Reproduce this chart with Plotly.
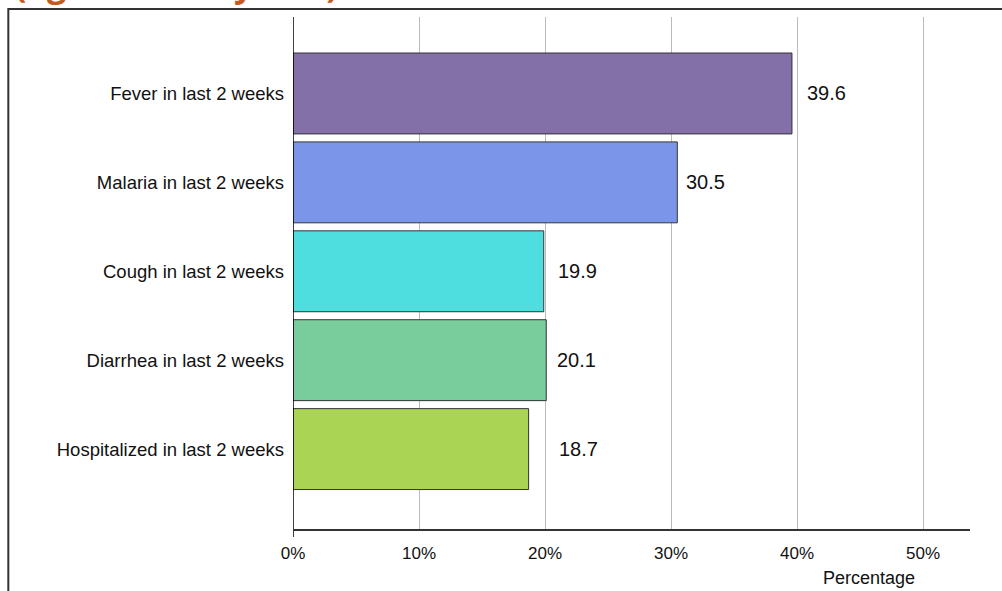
import plotly.graph_objects as go

# Child illness indicators, percentage of children
categories = [
    "Fever in last 2 weeks",
    "Malaria in last 2 weeks",
    "Cough in last 2 weeks",
    "Diarrhea in last 2 weeks",
    "Hospitalized in last 2 weeks",
]
values = [39.6, 30.5, 19.9, 20.1, 18.7]
tick_values = [0, 10, 20, 30, 40, 50]
tick_labels = ["0%", "10%", "20%", "30%", "40%", "50%"]

bar_colors = ["#8470A8", "#7B96E8", "#4EDEE0", "#79CC9C", "#AAD454"]
label_pad_px = [13, 7, 12, 9, 28]

FONT = "Liberation Sans, Arial, sans-serif"

fig = go.Figure()
fig.add_trace(go.Bar(
    x=values,
    y=categories,
    orientation="h",
    width=0.91,
    marker=dict(color=bar_colors, line=dict(color="#333333", width=1)),
    hoverinfo="x+y",
))

# value labels to the right of each bar
for cat, val, pad in zip(categories, values, label_pad_px):
    fig.add_annotation(
        x=val, y=cat, xref="x", yref="y",
        text=f"{val:.1f}", showarrow=False,
        xanchor="left", yanchor="middle", xshift=pad,
        font=dict(family=FONT, size=20, color="#111111"),
    )

# axis title
fig.add_annotation(
    x=45.7, xref="x", y=0, yref="paper", yshift=-48,
    text="Percentage", showarrow=False,
    xanchor="center", yanchor="middle",
    font=dict(family=FONT, size=18, color="#111111"),
)

# heading above the frame (runs off the top of the page)
fig.add_annotation(
    x=-0.4136, xref="paper", y=1.0156, yref="paper", yshift=0,
    text="<b>(age under 5 years)</b>", showarrow=False,
    xanchor="left", yanchor="bottom",
    font=dict(family="Open Sans, sans-serif", size=34, color="#C65A1E"),
)

# outer frame
fig.add_shape(type="rect", xref="paper", yref="paper",
              x0=-0.4205, x1=1.2, y0=-0.3, y1=1.0156,
              line=dict(color="#333333", width=2), fillcolor="rgba(0,0,0,0)",
              layer="below")
# y axis line, running slightly below the x axis
fig.add_shape(type="line", xref="x", yref="paper", ysizemode="pixel",
              yanchor=0, x0=0, x1=0, y0=-7, y1=513,
              line=dict(color="#000000", width=1.5))
# x axis line, running slightly left of zero
fig.add_shape(type="line", xref="x", yref="paper", xsizemode="pixel",
              xanchor=0, x0=-5, x1=677, y0=0, y1=0,
              line=dict(color="#333333", width=2))

fig.update_layout(
    width=1002, height=591,
    margin=dict(l=293, r=32, t=17, b=61),
    paper_bgcolor="white", plot_bgcolor="white",
    showlegend=False,
    font=dict(family=FONT, size=18, color="#111111"),
    xaxis=dict(
        range=[0, 53.73], tickvals=tick_values, ticktext=tick_labels,
        showgrid=True, gridcolor="#BBBBBB", gridwidth=1,
        zeroline=False, showline=False, ticks="",
        tickfont=dict(family=FONT, size=17, color="#111111"),
        ticklabelstandoff=11,
    ),
    yaxis=dict(
        type="category", categoryorder="array", categoryarray=categories,
        range=[4.91, -0.86], showgrid=False, zeroline=False, showline=False,
        ticks="", tickfont=dict(family=FONT, size=18.5, color="#111111"),
        ticklabelstandoff=8,
    ),
)

fig.write_html("out.html")
